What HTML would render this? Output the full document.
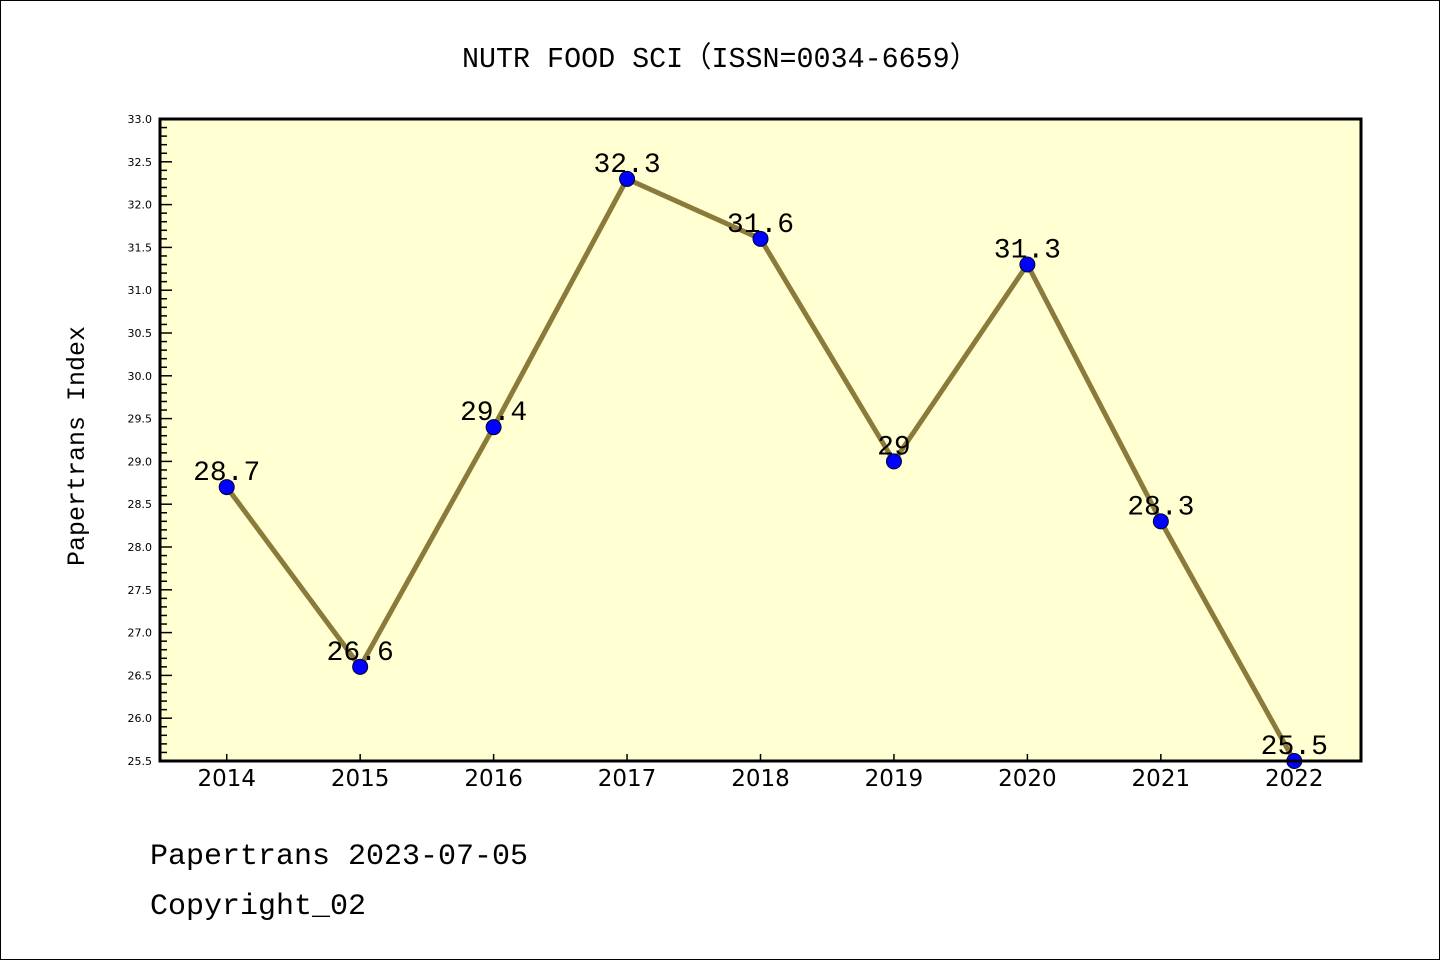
<!DOCTYPE html>
<html><head><meta charset="utf-8"><style>
html,body{margin:0;padding:0;background:#fff;}
svg{display:block;font-family:"Liberation Mono","DejaVu Sans Mono",monospace;}
</style></head><body>
<svg width="1440" height="960" viewBox="0 0 1440 960">
<rect x="0.5" y="0.5" width="1439" height="959" fill="#fff" stroke="#000"/>
<text x="462" y="67" textLength="516" lengthAdjust="spacingAndGlyphs" font-size="29">NUTR FOOD SCI（ISSN=0034-6659）</text>
<rect x="160" y="119" width="1201" height="642" fill="#ffffd2"/>
<g id="yaxis"></g>
<g id="xaxis"></g>
<g id="series"></g>
<rect x="160" y="119" width="1201" height="642" fill="none" stroke="#000" stroke-width="3"/>
<text transform="translate(84,446) rotate(-90)" text-anchor="middle" font-size="25">Papertrans Index</text>
<text x="150" y="864" font-size="30">Papertrans 2023-07-05</text>
<text x="150" y="914" font-size="30">Copyright_02</text>
</svg>
<script>
const years=[2014,2015,2016,2017,2018,2019,2020,2021,2022];
const values=[28.7,26.6,29.4,32.3,31.6,29.0,31.3,28.3,25.5];
const valueLabels=["28.7","26.6","29.4","32.3","31.6","29","31.3","28.3","25.5"];
const yTickLabels=["25.5","26.0","26.5","27.0","27.5","28.0","28.5","29.0","29.5","30.0","30.5","31.0","31.5","32.0","32.5","33.0"];
const NS="http://www.w3.org/2000/svg";
const L=160,R=1361,T=119,B=761,YMIN=25.5,YMAX=33.0,XMIN=2013.5,XMAX=2022.5;
const xs=v=>L+(v-XMIN)/(XMAX-XMIN)*(R-L);
const ys=v=>B-(v-YMIN)/(YMAX-YMIN)*(B-T);
function mk(t,a,p){const e=document.createElementNS(NS,t);for(const k in a)e.setAttribute(k,a[k]);p.appendChild(e);return e;}
const ya=document.getElementById('yaxis');
for(let i=0;i<=75;i++){const v=YMIN+i*0.1;const y=ys(v);const major=i%5===0;
 const t=mk('line',{x1:L,x2:L+(major?12:7),y1:y,y2:y,stroke:'#000','stroke-width':1.5},ya);
 
 }
yTickLabels.forEach(s=>{const y=ys(parseFloat(s));const t=mk('text',{x:152,y:y+4,'text-anchor':'end','font-size':11,'font-family':'"DejaVu Sans",sans-serif'},ya);t.textContent=s;
 
 });
const xa=document.getElementById('xaxis');
years.forEach(yr=>{const x=xs(yr);
 const tk=mk('line',{x1:x,x2:x,y1:B,y2:B-7,stroke:'#000','stroke-width':1.5},xa);
 
 
 const t=mk('text',{x:x,y:B+25,'text-anchor':'middle','font-size':23,'font-family':'"DejaVu Sans",sans-serif'},xa);t.textContent=yr;
 
 });
const sg=document.getElementById('series');
const pl=mk('polyline',{points:years.map((y,i)=>xs(y)+','+ys(values[i])).join(' '),fill:'none',stroke:'#8b7b3a','stroke-width':5},sg);


years.forEach((yr,i)=>{const x=xs(yr),y=ys(values[i]);
 const c=mk('circle',{cx:x,cy:y,r:7.5,fill:'#0000ff',stroke:'#000033','stroke-width':1},sg);
 
 
 const t=mk('text',{x:x,y:y-7,'text-anchor':'middle','font-size':28,fill:'#000'},sg);t.textContent=valueLabels[i];
 
 });
</script>
</body></html>
